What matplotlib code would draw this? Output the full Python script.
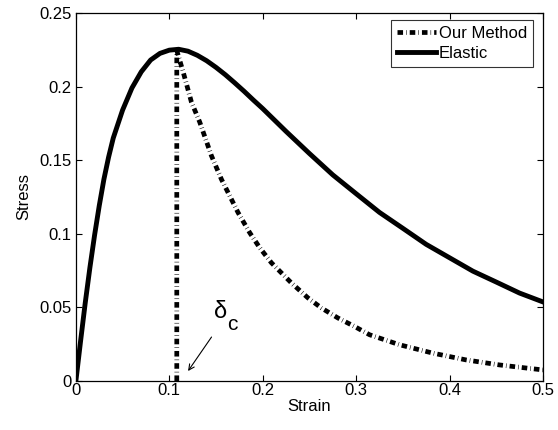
import matplotlib
matplotlib.use("Agg")
import matplotlib.pyplot as plt

plt.rcParams["font.family"] = ["Liberation Sans", "DejaVu Sans"]
plt.rcParams["lines.scale_dashes"] = False

# values
elastic_strain = [0.0, 0.005, 0.01, 0.015, 0.02, 0.025, 0.03, 0.035, 0.04,
                  0.05, 0.06, 0.07, 0.08, 0.09, 0.10, 0.11, 0.12, 0.13, 0.14,
                  0.15, 0.16, 0.17, 0.18, 0.19, 0.20, 0.225, 0.25, 0.275, 0.30,
                  0.325, 0.35, 0.375, 0.40, 0.425, 0.45, 0.475, 0.50]
elastic_stress = [0.0, 0.027, 0.053, 0.077, 0.099, 0.119, 0.137, 0.152, 0.165,
                  0.184, 0.199, 0.210, 0.218, 0.2225, 0.2247, 0.2253, 0.2240,
                  0.2212, 0.2175, 0.2130, 0.2080, 0.2025, 0.1968, 0.1908,
                  0.1850, 0.1695, 0.1545, 0.1400, 0.1272, 0.1145, 0.1037,
                  0.0928, 0.0837, 0.0746, 0.0672, 0.0597, 0.0537]

method_strain = [0.108, 0.108, 0.1148, 0.1237, 0.1326, 0.1451, 0.1558, 0.1647,
                 0.1736, 0.1861, 0.1968, 0.2093, 0.2182, 0.2307, 0.2485, 0.2628,
                 0.2805, 0.2984, 0.3144, 0.3465, 0.3822, 0.4178, 0.4535, 0.500]
method_stress = [0.0, 0.2245, 0.210, 0.1894, 0.1758, 0.153, 0.137, 0.1257,
                 0.1144, 0.1007, 0.0905, 0.0803, 0.0746, 0.0666, 0.0564, 0.0496,
                 0.0428, 0.037, 0.0314, 0.0246, 0.0189, 0.0143, 0.0109, 0.0075]

fig = plt.figure(figsize=(5.58, 4.30), dpi=100)
ax = fig.add_axes([0.136, 0.114, 0.837, 0.856])

ax.plot(method_strain, method_stress, color="black", lw=3.4,
        linestyle=(0, (4.0, 2.2, 0.4, 2.2)), label="Our Method")
ax.plot(elastic_strain, elastic_stress, color="black", lw=3.5, label="Elastic")

ax.set_xlim(0, 0.5)
ax.set_ylim(0, 0.25)
ax.set_xticks([0, 0.1, 0.2, 0.3, 0.4, 0.5])
ax.set_xticklabels(["0", "0.1", "0.2", "0.3", "0.4", "0.5"])
ax.set_yticks([0, 0.05, 0.1, 0.15, 0.2, 0.25])
ax.set_yticklabels(["0", "0.05", "0.1", "0.15", "0.2", "0.25"])
ax.tick_params(direction="in", top=True, right=True, labelsize=12,
               length=4, width=0.8)
ax.tick_params(axis="x", pad=1.5)
ax.tick_params(axis="y", pad=3)
for s in ax.spines.values():
    s.set_linewidth(0.9)

ax.set_xlabel("Strain", fontsize=12, labelpad=1)
ax.set_ylabel("Stress", fontsize=12, labelpad=6)

leg = ax.legend(loc="upper right", bbox_to_anchor=(0.9786, 0.981),
                fontsize=12, frameon=True, fancybox=False, borderaxespad=0,
                handlelength=2.3, borderpad=0.35, labelspacing=0.3,
                handletextpad=0.2)
leg.get_frame().set_edgecolor("black")
leg.get_frame().set_linewidth(0.8)

ax.text(0.1475, 0.043, "\u03b4", fontsize=17)
ax.text(0.1615, 0.0348, "c", fontsize=15)
ax.annotate("", xy=(0.1184, 0.0052), xytext=(0.1469, 0.0314),
            arrowprops=dict(arrowstyle="->", lw=0.8, color="black"))

fig.savefig("out.png", dpi=100)
